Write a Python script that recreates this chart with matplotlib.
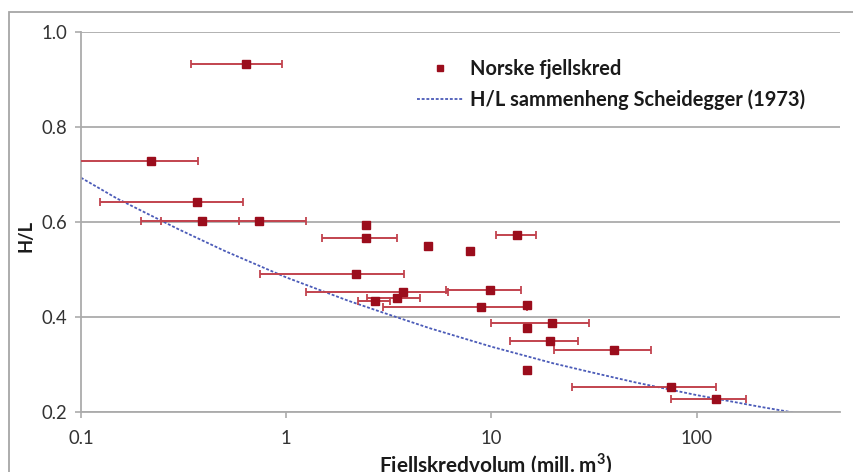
import numpy as np
import matplotlib
matplotlib.use("Agg")
import matplotlib.pyplot as plt
from matplotlib.patches import Rectangle
from matplotlib.lines import Line2D

plt.rcParams['font.family'] = ['Lato', 'DejaVu Sans']
plt.rcParams['mathtext.fontset'] = 'custom'
plt.rcParams['mathtext.rm'] = 'Lato:bold'
plt.rcParams['mathtext.bf'] = 'Lato:bold'

# --- data (mill. m3, H/L) ---
volume = [0.64, 0.22, 0.367, 0.39, 0.733, 2.45, 2.45, 4.93, 7.87, 13.4,
          2.2, 3.69, 9.89, 2.71, 3.45, 8.9, 14.9, 19.8, 14.9, 19.3,
          39.7, 14.9, 75.2, 124.7]
hl = [0.933, 0.728, 0.641, 0.602, 0.602, 0.593, 0.567, 0.549, 0.538, 0.573,
      0.490, 0.453, 0.456, 0.434, 0.440, 0.420, 0.425, 0.386, 0.377, 0.350,
      0.329, 0.288, 0.253, 0.227]
vol_lo = [0.344, 0.05, 0.124, 0.197, 0.246, 2.45, 1.49, 4.93, 7.87, 10.5,
          0.744, 1.25, 6.01, 2.25, 2.49, 2.98, 14.9, 10.0, 14.9, 12.3,
          20.3, 14.9, 24.8, 75.2]
vol_hi = [0.956, 0.372, 0.619, 0.592, 1.25, 2.45, 3.47, 4.93, 7.87, 16.5,
          3.75, 6.12, 13.96, 3.21, 4.49, 14.9, 14.9, 29.8, 14.9, 26.4,
          59.7, 14.9, 124.7, 175.0]

# Scheidegger (1973) curve
sch_vol = [0.1, 0.15, 0.2, 0.3, 0.5, 1, 2, 3, 5, 10, 20, 30, 50, 100, 150, 200, 318]
sch_hl = [0.693, 0.649, 0.622, 0.584, 0.539, 0.483, 0.434, 0.408, 0.376, 0.337,
          0.302, 0.284, 0.262, 0.235, 0.221, 0.211, 0.196]

xticks = [0.1, 1, 10, 100]
xticklabels = ['0.1', '1', '10', '100']
yticks = [0.2, 0.4, 0.6, 0.8, 1.0]
yticklabels = ['0.2', '0.4', '0.6', '0.8', '1.0']

W, H = 854, 472
fig = plt.figure(figsize=(W / 100, H / 100), dpi=100)
fig.patch.set_facecolor('white')
renderer = fig.canvas.get_renderer()


def fit_size(text, target_px, weight='normal', base=13.0):
    t = fig.text(0, 0, text, fontsize=base, fontweight=weight)
    w = t.get_window_extent(renderer=renderer).width
    t.remove()
    return base * target_px / w


tick_fs = fit_size('100', 32)
leg_fs = fit_size('H/L sammenheng Scheidegger (1973)', 335, 'bold')
xlab_fs = fit_size('Fjellskredvolum (mill. m$^{3}$)', 233, 'bold')
ylab_fs = fit_size('H/L', 32, 'bold')

# outer chart frame
fig.patches.append(Rectangle((9 / W, -0.2), 1.2, (H - 12) / H + 0.2,
                             transform=fig.transFigure, fill=False,
                             edgecolor='#a6a6a6', lw=1.3, clip_on=False))

ax = fig.add_axes([81 / W, (H - 411.7) / H, (840 - 81) / W, (411.7 - 32) / H])
ax.set_xscale('log')
ax.set_xlim(0.1, 500)
ax.set_ylim(0.2, 1.0)

grid_c = '#ababab'
for s in ['top', 'right']:
    ax.spines[s].set_visible(False)
for s in ['left', 'bottom']:
    ax.spines[s].set_color(grid_c)
    ax.spines[s].set_linewidth(1.3)
ax.yaxis.grid(True, color=grid_c, lw=1.3)
ax.set_axisbelow(True)

ax.set_xticks(xticks)
ax.set_xticklabels(xticklabels)
ax.xaxis.set_minor_locator(matplotlib.ticker.NullLocator())
ax.set_yticks(yticks)
ax.set_yticklabels(yticklabels)
ax.tick_params(axis='both', length=4, width=1.2, color=grid_c,
               labelsize=tick_fs, labelcolor='#333333', pad=6)
ax.tick_params(axis='x', pad=9)

x = np.array(volume)
y = np.array(hl)
xerr = np.vstack([x - np.array(vol_lo), np.array(vol_hi) - x])

ax.errorbar(x, y, xerr=xerr, fmt='none', ecolor='#c2434e', elinewidth=1.4,
            capsize=3, capthick=1.3, zorder=3)
ax.plot(x, y, 's', color='#9b0d1c', ms=5.2, zorder=4, clip_on=False)

ax.plot(sch_vol, sch_hl, color='#4b5bb8', lw=1.3, ls=(0, (1.6, 1.0)), zorder=2)

ax.set_ylabel('H/L', fontsize=ylab_fs, fontweight='bold', color='#1a1a1a')
ax.yaxis.set_label_coords(26 / W, 0.5, transform=fig.transFigure)
ax.yaxis.label.set_va('center')
fig.text(496 / W, 1 - 465 / H, 'Fjellskredvolum (mill. m$^{3}$)', ha='center',
         va='center', fontsize=xlab_fs, fontweight='bold', color='#1a1a1a')

handles = [Line2D([], [], marker='s', ls='none', color='#9b0d1c', ms=4.6),
           Line2D([], [], color='#4b5bb8', lw=1.3, ls=(0, (1.6, 1.0)))]
labels = ['Norske fjellskred', 'H/L sammenheng Scheidegger (1973)']
hl_px = 46.0
leg = fig.legend(handles, labels, loc='upper left',
                 bbox_to_anchor=(417 / W, 1 - 59 / H), frameon=False,
                 borderpad=0, borderaxespad=0,
                 handlelength=hl_px / (leg_fs * 100 / 72),
                 handletextpad=7.0 / (leg_fs * 100 / 72), labelspacing=0.5,
                 prop={'family': 'Lato', 'weight': 'bold', 'size': leg_fs})
for t in leg.get_texts():
    t.set_color('#1a1a1a')

fig.savefig('out.png', dpi=100)
